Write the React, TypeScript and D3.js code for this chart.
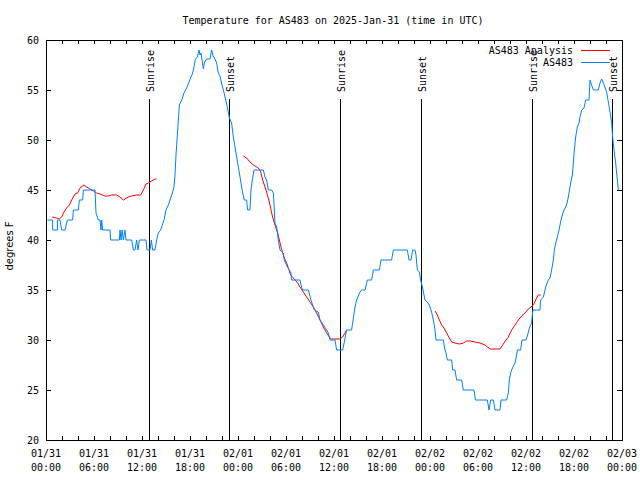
import React from "react";
import * as d3 from "d3";

const TITLE = "Temperature for AS483 on 2025-Jan-31 (time in UTC)";
const Y_LABEL = "degrees F";
const X_TICK_LABELS = [
  ["01/31", "00:00"], ["01/31", "06:00"], ["01/31", "12:00"], ["01/31", "18:00"],
  ["02/01", "00:00"], ["02/01", "06:00"], ["02/01", "12:00"], ["02/01", "18:00"],
  ["02/02", "00:00"], ["02/02", "06:00"], ["02/02", "12:00"], ["02/02", "18:00"],
  ["02/03", "00:00"],
];
const Y_TICKS = [20, 25, 30, 35, 40, 45, 50, 55, 60];

// hours since 2025-01-31 00:00 UTC
const sunriseHours = [12.91, 36.79, 60.79];
const sunsetHours = [22.91, 46.91, 70.79];

const obsHours = [
  0.17, 0.83, 0.84, 1.42, 1.43, 1.54, 1.75, 1.96, 2.375, 2.67, 3.33, 3.42, 4.04, 4.17, 4.58, 4.67, 6.125,
  6.25, 6.54, 6.75, 6.875, 6.96, 7.08, 8.0, 8.08, 9.17, 9.25, 9.375, 9.5, 9.67, 9.875, 10.0, 10.71, 10.92,
  11.125, 11.33, 11.5, 11.67, 12.5, 12.625, 13.0, 13.17, 13.33, 13.625, 13.83, 14.04, 14.33, 14.54, 14.75,
  15.0, 15.29, 15.5, 15.79, 16.0, 16.125, 16.25, 16.375, 16.5, 16.67, 16.96, 17.25, 17.58, 17.875, 18.125,
  18.33, 18.5, 18.67, 18.92, 19.125, 19.25, 19.375, 19.54, 19.67, 19.83, 20.08, 20.5, 20.7, 20.9, 21.125,
  21.33, 21.54, 21.75, 21.96, 22.17, 22.375, 22.58, 22.79, 22.92, 23.2, 23.42, 23.54, 23.75, 23.96, 24.17,
  24.375, 24.58, 24.79, 25.08, 25.2, 25.5, 25.62, 25.79, 26.0, 27.17, 27.375, 27.58, 27.79, 28.2, 28.42,
  28.625, 28.83, 29.04, 29.25, 29.67, 29.79, 30.17, 30.42, 30.625, 30.7, 31.75, 31.875, 32.08, 32.79,
  33.125, 33.33, 33.54, 34.04, 34.25, 34.67, 35.08, 35.29, 35.5, 36.125, 36.33, 37.08, 37.29, 37.58, 38.2,
  38.33, 38.625, 38.83, 39.25, 39.46, 39.875, 40.17, 40.7, 40.92, 41.67, 41.875, 43.2, 43.42, 45.17,
  45.375, 45.625, 45.83, 46.125, 46.25, 46.42, 46.67, 46.83, 47.08, 47.375, 47.67, 47.92, 48.2, 48.42,
  48.625, 48.75, 49.67, 49.8, 50.0, 50.17, 50.71, 50.83, 51.125, 51.33, 51.96, 52.17, 53.5, 53.67, 55.17,
  55.375, 55.58, 55.92, 56.125, 56.75, 56.875, 57.58, 57.79, 57.92, 58.08, 58.2, 58.625, 58.83, 58.92,
  59.33, 59.5, 60.0, 60.2, 60.42, 60.7, 60.83, 60.92, 61.75, 61.83, 62.17, 62.375, 62.58, 62.79, 63.0,
  63.2, 63.42, 63.54, 63.75, 63.92, 64.125, 64.33, 64.54, 64.75, 64.96, 65.17, 65.375, 65.58, 65.79,
  65.92, 66.04, 66.21, 66.42, 66.625, 66.75, 66.96, 67.25, 67.46, 67.875, 68.0, 68.2, 68.42, 69.04, 69.25,
  69.46, 69.67, 70.08, 70.29, 70.5, 70.71, 70.83, 71.0, 71.21, 71.33, 71.46, 71.54, 71.67,
];
const obsTemps = [
  42, 42, 41, 41, 42, 42, 42, 41, 41, 42, 42, 43, 43, 44, 44, 45, 45,
  42.7, 42, 42, 41, 42, 41, 41, 40, 40, 41, 40, 41, 40, 41, 40, 40, 39,
  39, 40, 39, 40, 40, 39, 39, 40, 39, 39, 40, 40.7, 41, 41.5, 42,
  43, 43.5, 44, 44.7, 45.3, 46.5, 48.5, 50, 51.5, 53.5, 54, 54.7, 55.2, 55.8, 56.3,
  56.7, 57.3, 58.1, 58.3, 59, 58.5, 58.7, 57.8, 57.1, 57.8, 58.1, 58.1, 59, 58.4, 58.1,
  57.7, 56.7, 56.4, 55.6, 55.0, 54.3, 53.6, 52.8, 52.2, 51.7, 50.3, 49.7, 48.7, 47.7, 46.7,
  45.7, 44.7, 44, 44, 43, 43, 45, 46, 47, 47, 46.3, 46, 45, 45, 44.7,
  41.7, 41.3, 40, 39, 38.7, 38, 37.3, 37, 36.7, 36, 36, 35.5, 35, 35,
  34, 33.5, 33, 32.8, 32, 31.5, 31, 30.7, 30, 30, 29, 29, 29.8, 31, 31,
  31.7, 33.3, 34, 34.8, 35, 35, 36, 36, 37, 37, 38, 38, 39, 39,
  38, 38, 39, 39, 38.5, 37, 36.8, 36, 35.2, 34, 33.8, 33.5, 32.8, 32,
  31, 30, 30, 29.3, 28.7, 28, 28, 27, 27, 26, 26, 25, 25, 24, 24,
  23, 24, 24, 23, 23, 24, 24, 24.7, 26, 26.7, 27, 27.7, 28.5, 29,
  29, 30, 30, 30.5, 31.2, 31.7, 32.8, 33, 33, 34, 34.3, 35, 35.6, 36, 36.2,
  37, 38, 39, 39.8, 40.3, 41, 41.8, 42.5, 43, 43.3, 43.8, 44.7, 45.7, 46.5,
  47.7, 49, 50.3, 51.3, 51.7, 52.3, 53, 53.2, 54, 54, 56, 55.5, 55, 55, 55.7,
  56.1, 55.7, 54.8, 53.8, 52.8, 51.7, 50.3, 49, 47.7, 46.7, 45.7, 45, 45,
];

// NaN separates analysis segments
const analysisHours = [
  0.79, 1.33, 1.67, 1.96, 2.25, 2.58, 2.92, 3.21, 3.625, 3.96, 4.25, 4.54, 4.75, 5.08, 5.5, 5.92, 6.33,
  6.75, 7.375, 7.79, 8.2, 8.83, 9.25, 9.67, 10.29, 10.71, 11.33, 11.83, 12.17, 12.5, 12.79, 13.2, 13.625,
  13.83, NaN,
  24.67, 25.08, 25.5, 25.92, 26.33, 26.67, 26.875, 27.08, 27.29, 27.5, 27.71, 27.92, 28.125, 28.33, 28.54,
  28.75, 28.96, 29.17, 29.375, 29.58, 29.79, 30.08, 30.29, 30.58, 30.92, 31.25, 31.46, 31.75, 32.17, 32.58,
  33.0, 33.42, 33.83, 34.25, 34.67, 35.08, 35.5, 35.7, 36.75, 37.08, 37.375, 37.58, NaN,
  48.625, 48.92, 49.17, 49.46, 49.75, 50.08, 50.42, 50.71, 51.125, 51.67, 52.17, 52.58, 53.08, 53.625,
  54.25, 54.875, 55.17, 55.58, 56.125, 56.75, 57.08, 57.5, 57.79, 58.2, 58.625, 59.04, 59.46, 59.875,
  60.29, 60.625, 60.92, 61.33, 61.54, 61.83,
];
const analysisTemps = [
  42.3, 42.2, 42.1, 42.3, 42.8, 43.2, 43.5, 44, 44.6, 44.7, 45.2, 45.4, 45.5, 45.3, 45.1, 44.9, 44.7,
  44.6, 44.4, 44.4, 44.5, 44.5, 44.3, 44, 44.3, 44.4, 44.5, 44.5, 45, 45.6, 45.7, 45.9, 46.1,
  46.1, NaN,
  48.4, 48.2, 47.8, 47.5, 47.3, 47.1, 46.7, 46, 45.5, 45, 44.4, 43.8, 43, 42.3, 41.7,
  41.2, 40.7, 40, 39.3, 38.7, 38.2, 37.7, 37.2, 36.5, 36.2, 35.9, 35.7, 35.3, 34.8, 34.3,
  33.8, 33.3, 32.7, 32, 31.3, 30.7, 30.2, 30.1, 30.1, 30.3, 30.7, 31, NaN,
  32.9, 32.5, 32, 31.5, 31.2, 30.7, 30.2, 29.8, 29.7, 29.6, 29.7, 29.9, 29.9, 29.8,
  29.7, 29.5, 29.3, 29.1, 29.1, 29.1, 29.5, 30, 30.3, 31, 31.5, 32, 32.4, 32.7,
  33.1, 33.3, 33.5, 34.2, 34.5, 34.5,
];

const SERIES_NAMES = ["AS483 Analysis", "AS483"];
const SERIES_COLORS = ["#ff0000", "#0080ff"];

const FONT = "'DejaVu Sans Mono', monospace";

export default function App() {
  const W = 640, H = 480;
  const L = 46, R = 622, T = 40, B = 440;
  const x = d3.scaleLinear().domain([0, 72]).range([L, R]);
  const y = d3.scaleLinear().domain([20, 60]).range([B, T]);

  const obs = obsHours.map((h, i) => [h, obsTemps[i]] as [number, number]);
  const ana = analysisHours.map((h, i) => [h, analysisTemps[i]] as [number, number]);
  const line = d3
    .line<[number, number]>()
    .defined((d) => !isNaN(d[0]) && !isNaN(d[1]))
    .x((d) => x(d[0]))
    .y((d) => y(d[1]));

  const majorX = d3.range(0, 73, 6);
  const minorX = d3.range(0, 73, 2);

  const sunEvents = [
    ...sunriseHours.map((h) => ({ h, label: "Sunrise" })),
    ...sunsetHours.map((h) => ({ h, label: "Sunset" })),
  ];

  return (
    <svg width={W} height={H} style={{ display: "block", position: "absolute", left: 0, top: 0, background: "#fff" }}>
      <rect x={0} y={0} width={W} height={H} fill="#fff" />
      <text x={333} y={24} textAnchor="middle" fontFamily={FONT} fontSize={10} fill="#000">
        {TITLE}
      </text>
      {/* x ticks */}
      <g stroke="#000" strokeWidth={1} shapeRendering="crispEdges">
        {minorX.map((h) => (
          <g key={"mx" + h}>
            <line x1={x(h) + 0.5} x2={x(h) + 0.5} y1={B} y2={B - 4} />
            <line x1={x(h) + 0.5} x2={x(h) + 0.5} y1={T} y2={T + 4} />
          </g>
        ))}
        {Y_TICKS.map((v) => (
          <g key={"yt" + v}>
            <line x1={L} x2={L + 5} y1={y(v) + 0.5} y2={y(v) + 0.5} />
            <line x1={R} x2={R - 5} y1={y(v) + 0.5} y2={y(v) + 0.5} />
          </g>
        ))}
      </g>
      {/* tick labels */}
      <g fontFamily={FONT} fontSize={10} fill="#000">
        {majorX.map((h, i) => (
          <g key={"xl" + h}>
            <text x={x(h)} y={457} textAnchor="middle">{X_TICK_LABELS[i][0]}</text>
            <text x={x(h)} y={471} textAnchor="middle">{X_TICK_LABELS[i][1]}</text>
          </g>
        ))}
        {Y_TICKS.map((v) => (
          <text key={"yl" + v} x={39} y={y(v) + 4} textAnchor="end">{v}</text>
        ))}
      </g>
      <text
        transform={`translate(13,246) rotate(-90)`}
        textAnchor="middle"
        fontFamily="'DejaVu Sans', sans-serif"
        fontSize={10}
        fill="#000"
      >
        {Y_LABEL}
      </text>
      {/* sunrise / sunset */}
      <g>
        {sunEvents.map((e, i) => (
          <g key={"sun" + i}>
            <line
              x1={Math.round(x(e.h)) + 0.5}
              x2={Math.round(x(e.h)) + 0.5}
              y1={99}
              y2={B}
              stroke="#000"
              strokeWidth={1}
              shapeRendering="crispEdges"
            />
            <text
              transform={`translate(${Math.round(x(e.h)) + 5},92) rotate(-90)`}
              fontFamily={FONT}
              fontSize={10}
              fill="#000"
            >
              {e.label}
            </text>
          </g>
        ))}
      </g>
      {/* data */}
      <path d={line(ana) || ""} fill="none" stroke={SERIES_COLORS[0]} strokeWidth={1} />
      <path d={line(obs) || ""} fill="none" stroke={SERIES_COLORS[1]} strokeWidth={1} />
      {/* legend */}
      <g fontFamily={FONT} fontSize={10} fill="#000">
        {SERIES_NAMES.map((n, i) => (
          <g key={"lg" + n}>
            <text x={573} y={54 + i * 12} textAnchor="end">{n}</text>
            <line x1={581} x2={610} y1={50.5 + i * 12} y2={50.5 + i * 12} stroke={SERIES_COLORS[i]} strokeWidth={1} shapeRendering="crispEdges" />
          </g>
        ))}
      </g>
      {/* frame */}
      <rect x={L + 0.5} y={T + 0.5} width={R - L} height={B - T} fill="none" stroke="#000" strokeWidth={1} shapeRendering="crispEdges" />
    </svg>
  );
}
